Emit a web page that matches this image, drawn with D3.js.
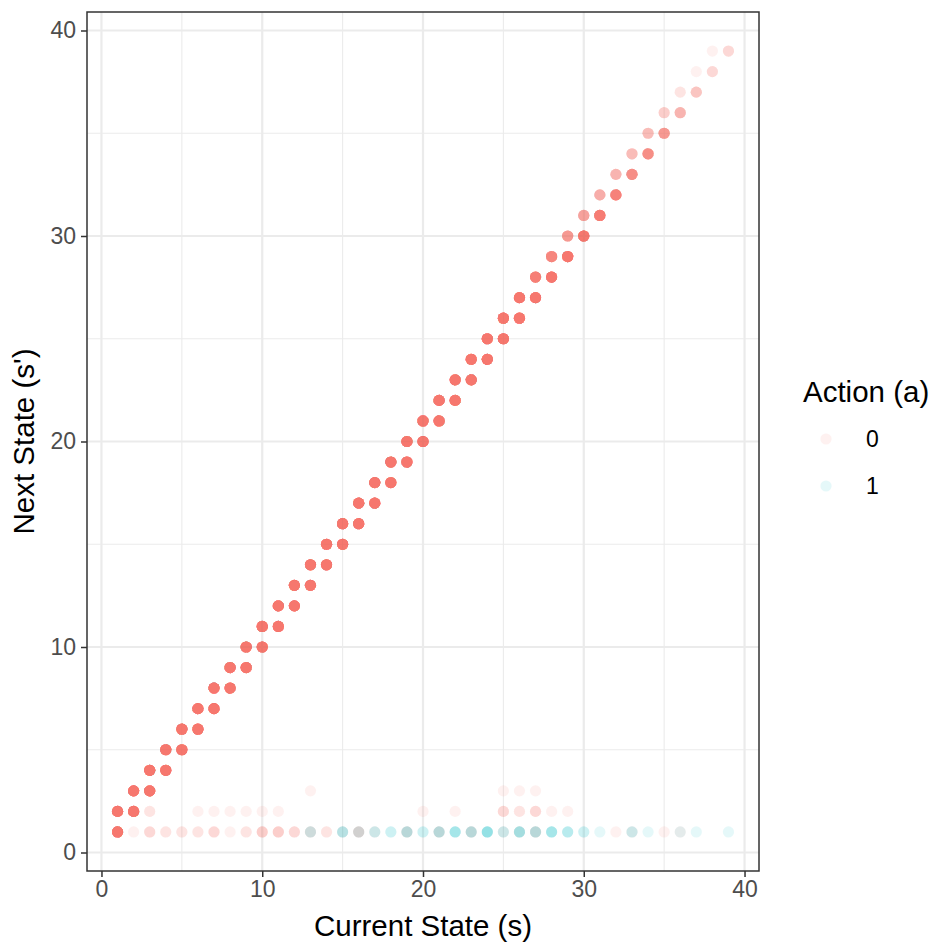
<!DOCTYPE html>
<html lang="en">
<head>
<meta charset="utf-8">
<title>Next state vs current state</title>
<script src="https://d3js.org/d3.v7.min.js"></script>
<style>
  body { margin: 0; background: #fff; }
  text { font-family: "Liberation Sans", Arial, sans-serif; }
</style>
</head>
<body>
<div id="chart"></div>
<script>
// observed transitions: current state, next state, action, number of overlapping rows
// diagonal, s -> s+1 (action 0)
var upState = d3.range(1, 39);
var upCount = [30,30,30,30,30,30,30,30,30,30,30,30,30,30,30,30,30,30,30,30,30,30,30,30,30,30,
               22,18,12,10,8,7,6,6,4,2,1,1];
// diagonal, s -> s (action 0)
var stayState = d3.range(1, 40);
var stayCount = [30,30,30,30,30,30,30,30,30,30,30,30,30,30,30,30,30,30,30,30,30,30,30,30,30,30,30,30,30,
                 30,25,20,15,15,12,7,5,3,3];
// reset to state 1, action 0
var reset0State = [2,3,4,5,6,7,8,9,10,11,12,13,14,15,16,17,19,21,23,25,26,27,32,33,35,36];
var reset0Count = [1,3,2,2,2,3,1,2,4,4,3,2,2,1,3,1,2,2,2,1,1,2,1,1,1,1];
// reset to state 1, action 1
var reset1State = [13,15,16,17,18,19,20,21,22,23,24,25,26,27,28,29,30,31,33,34,36,37,39];
var reset1Count = [2,3,2,2,2,3,2,3,4,3,5,2,4,3,4,3,2,1,2,1,1,1,1];
// reset to state 2, action 0
var two0State = [3,6,7,8,9,10,11,20,22,25,26,27,28,29];
var two0Count = [2,1,1,1,1,1,1,1,1,3,2,3,1,1];
// reset to state 3, action 0
var three0State = [13,25,26,27];
var three0Count = [1,1,1,1];

var xTicks = [0, 10, 20, 30, 40];
var yTicks = [0, 10, 20, 30, 40];
var actions = ["0", "1"];
var colors = ["#F8766D", "#00BFC4"];

// build point rows
var groups = [];
upState.forEach(function(s, i) { groups.push({s: s, n: s + 1, a: "0", c: upCount[i]}); });
stayState.forEach(function(s, i) { groups.push({s: s, n: s, a: "0", c: stayCount[i]}); });
reset0State.forEach(function(s, i) { groups.push({s: s, n: 1, a: "0", c: reset0Count[i]}); });
reset1State.forEach(function(s, i) { groups.push({s: s, n: 1, a: "1", c: reset1Count[i]}); });
two0State.forEach(function(s, i) { groups.push({s: s, n: 2, a: "0", c: two0Count[i]}); });
three0State.forEach(function(s, i) { groups.push({s: s, n: 3, a: "0", c: three0Count[i]}); });

// expand, interleaving the copies so mixed spots blend
var rows = [];
var maxC = d3.max(groups, function(g) { return g.c; });
for (var k = 0; k < maxC; k++) {
  groups.forEach(function(g) { if (g.c > k) rows.push(g); });
}

var W = 933, H = 943;
var margin = {top: 12, right: 174, bottom: 72, left: 87};
var width = W - margin.left - margin.right,
    height = H - margin.top - margin.bottom;

var svg = d3.select("#chart").append("svg")
    .attr("width", W)
    .attr("height", H);

var g = svg.append("g")
    .attr("transform", "translate(" + margin.left + "," + margin.top + ")");

var x = d3.scaleLinear().domain([-0.9, 40.9]).range([0, width]);
var y = d3.scaleLinear().domain([-0.9, 40.9]).range([height, 0]);
var color = d3.scaleOrdinal().domain(actions).range(colors);

// grid
var minor = [5, 15, 25, 35];
g.selectAll(".vminor").data(minor).enter().append("line")
    .attr("x1", d => x(d)).attr("x2", d => x(d))
    .attr("y1", 0).attr("y2", height)
    .attr("stroke", "#EBEBEB").attr("stroke-width", 1.1);
g.selectAll(".hminor").data(minor).enter().append("line")
    .attr("y1", d => y(d)).attr("y2", d => y(d))
    .attr("x1", 0).attr("x2", width)
    .attr("stroke", "#EBEBEB").attr("stroke-width", 1.1);
g.selectAll(".vmajor").data(xTicks).enter().append("line")
    .attr("x1", d => x(d)).attr("x2", d => x(d))
    .attr("y1", 0).attr("y2", height)
    .attr("stroke", "#EBEBEB").attr("stroke-width", 2.2);
g.selectAll(".hmajor").data(yTicks).enter().append("line")
    .attr("y1", d => y(d)).attr("y2", d => y(d))
    .attr("x1", 0).attr("x2", width)
    .attr("stroke", "#EBEBEB").attr("stroke-width", 2.2);

// points
g.append("g").selectAll("circle").data(rows).enter().append("circle")
    .attr("cx", d => x(d.s))
    .attr("cy", d => y(d.n))
    .attr("r", 5.6)
    .attr("fill", d => color(d.a))
    .attr("fill-opacity", 0.1);

// border
g.append("rect")
    .attr("width", width).attr("height", height)
    .attr("fill", "none").attr("stroke", "#333333").attr("stroke-width", 1.5);

// axes
var xAxis = g.append("g")
    .attr("transform", "translate(0," + height + ")")
    .call(d3.axisBottom(x).tickValues(xTicks).tickSize(6).tickPadding(4));
var yAxis = g.append("g")
    .call(d3.axisLeft(y).tickValues(yTicks).tickSize(6).tickPadding(5));
[xAxis, yAxis].forEach(function(a) {
  a.select(".domain").remove();
  a.selectAll(".tick line").attr("stroke", "#333333").attr("stroke-width", 1.5);
  a.selectAll(".tick text").attr("fill", "#4D4D4D").style("font-size", "23px")
    .style("font-family", "'Liberation Sans', Arial, sans-serif");
});

svg.append("text")
    .attr("x", margin.left + width / 2)
    .attr("y", 936)
    .attr("text-anchor", "middle")
    .style("font-size", "29.5px")
    .text("Current State (s)");

svg.append("text")
    .attr("transform", "translate(34," + (margin.top + height / 2) + ") rotate(-90)")
    .attr("text-anchor", "middle")
    .style("font-size", "29.5px")
    .text("Next State (s')");

// legend
var legend = svg.append("g").attr("transform", "translate(803,0)");
legend.append("text")
    .attr("x", 0).attr("y", 402)
    .style("font-size", "29.5px")
    .text("Action (a)");
actions.forEach(function(a, i) {
  legend.append("circle")
    .attr("cx", 23).attr("cy", 439 + i * 47)
    .attr("r", 5.6)
    .attr("fill", color(a))
    .attr("fill-opacity", 0.1);
  legend.append("text")
    .attr("x", 63).attr("y", 439 + i * 47 + 8)
    .style("font-size", "23px")
    .text(a);
});
</script>
</body>
</html>
